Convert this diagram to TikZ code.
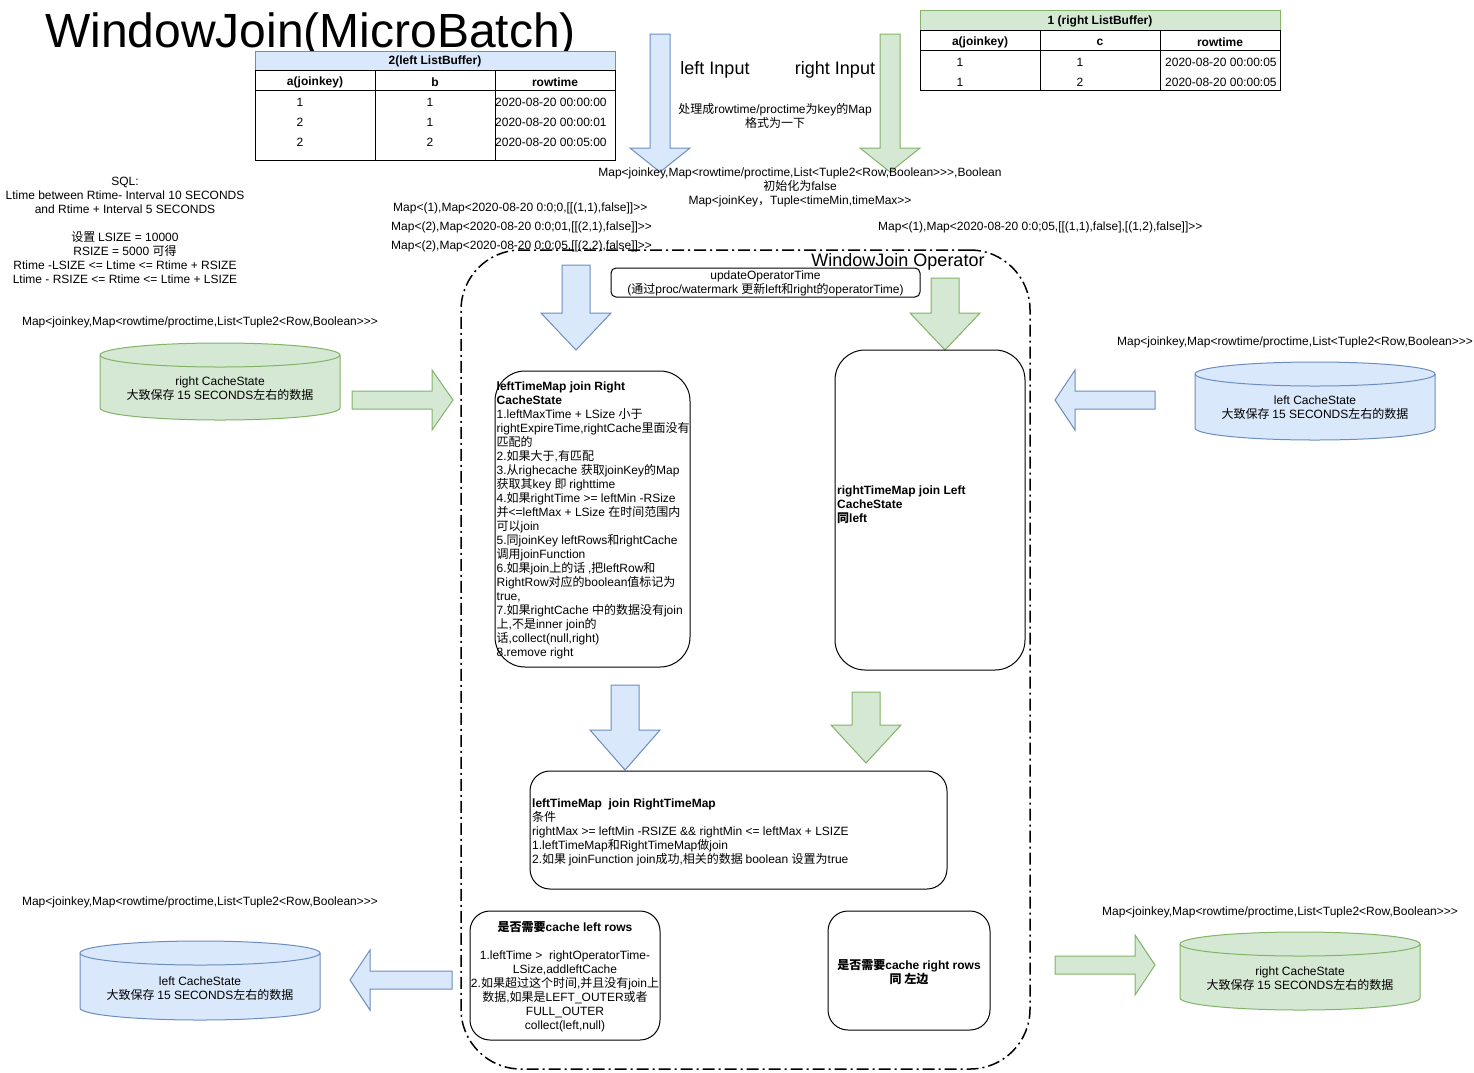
\documentclass[tikz,border=0pt]{standalone}
\usepackage{fontspec}
\setmainfont{Liberation Sans}[Ligatures=TeXOff]
\newfontfamily\cjkfont{Noto Sans CJK SC}[Ligatures=TeXOff]
\newXeTeXintercharclass\CJKcls
\newcount\cjkc
\cjkc="4E00
\loop \XeTeXcharclass\cjkc=\CJKcls \advance\cjkc by 1 \ifnum\cjkc<"A000 \repeat
\cjkc="3000
\loop \XeTeXcharclass\cjkc=\CJKcls \advance\cjkc by 1 \ifnum\cjkc<"3040 \repeat
\cjkc="FF00
\loop \XeTeXcharclass\cjkc=\CJKcls \advance\cjkc by 1 \ifnum\cjkc<"FFF0 \repeat
\XeTeXinterchartoks 0 \CJKcls = {\cjkfont}
\XeTeXinterchartoks 4095 \CJKcls = {\cjkfont}
\XeTeXinterchartoks \CJKcls 0 = {\rmfamily}
\XeTeXinterchartoks 4095 0 = {\rmfamily}
\XeTeXinterchartokenstate=1
\definecolor{bfill}{HTML}{DAE8FC}
\definecolor{bdraw}{HTML}{6C8EBF}
\definecolor{gfill}{HTML}{D5E8D4}
\definecolor{gdraw}{HTML}{82B366}
% block arrows: style, cx, ytop, yhead, ytip, shaft half, head half
\newcommand{\ArrV}[7]{\draw[#1] ({#2-#6},#3) -- ({#2+#6},#3) -- ({#2+#6},#4) -- ({#2+#7},#4) -- (#2,#5) -- ({#2-#7},#4) -- ({#2-#6},#4) -- cycle;}
% style, cy, xtail, xhead, xtip, shaft half, head half
\newcommand{\ArrH}[7]{\draw[#1] (#3,{#2-#6}) -- (#4,{#2-#6}) -- (#4,{#2-#7}) -- (#5,#2) -- (#4,{#2+#7}) -- (#4,{#2+#6}) -- (#3,{#2+#6}) -- cycle;}
% cylinder: style, x1, top, bottom, rx, ry
\newcommand{\Cyl}[6]{%
\draw[#1] (#2,{#3+#6}) -- (#2,{#4-#6}) arc[start angle=180,end angle=360,x radius=#5pt,y radius=#6pt] -- ({#2+2*#5},{#3+#6}) arc[start angle=0,end angle=180,x radius=#5pt,y radius=#6pt] -- cycle;
\draw[#1,fill=none] (#2,{#3+#6}) arc[start angle=180,end angle=360,x radius=#5pt,y radius=#6pt];}
\begin{document}
\begin{tikzpicture}[x=1pt,y=-1pt,
 txt/.style={inner sep=0pt, yshift=-1pt, font=\fontsize{12}{14}\selectfont},
 btxt/.style={inner sep=0pt, yshift=-1pt, font=\fontsize{12}{14}\selectfont\bfseries},
 rbox/.style={draw=black, line width=1pt, inner sep=0pt},
 opbox/.style={draw=black, line width=1.5pt, dash pattern=on 12pt off 4pt on 2pt off 4pt, rounded corners=60pt, inner sep=0pt},
 bluearr/.style={fill=bfill, draw=bdraw, line width=1pt},
 greenarr/.style={fill=gfill, draw=gdraw, line width=1pt},
 tline/.style={draw=black, line width=1pt}]
\useasboundingbox (0,0) rectangle (1474,1072);
\fill[white] (0,0) rectangle (1474,1072);

% title
\node[inner sep=0pt, anchor=base west, font=\fontsize{48}{56}\selectfont] (title) at (45,47) {WindowJoin(MicroBatch)};

% left table
\node[draw=bdraw, fill=bfill, line width=1pt, minimum width=360pt, minimum height=19pt] (lth) at (435,60.5) {};
\node[btxt] (lthtxt) at (lth.center) {2(left ListBuffer)};
\draw[tline] (255,70) rectangle (615,160);
\draw[tline] (255,90) -- (615,90);
\draw[tline] (375,70) -- (375,160);
\draw[tline] (495,70) -- (495,160);
\node[btxt] (lc1) at (315,81) {a(joinkey)};
\node[btxt] (lc2) at (435,81) {b};
\node[btxt] (lc3) at (555,81) {rowtime};
\node[txt] (l11) at (300,101) {1};
\node[txt] (l12) at (430,101) {1};
\node[txt, anchor=west] (l13) at (495,101) {2020-08-20 00:00:00};
\node[txt] (l21) at (300,121) {2};
\node[txt] (l22) at (430,121) {1};
\node[txt, anchor=west] (l23) at (495,121) {2020-08-20 00:00:01};
\node[txt] (l31) at (300,141) {2};
\node[txt] (l32) at (430,141) {2};
\node[txt, anchor=west] (l33) at (495,141) {2020-08-20 00:05:00};

% right table
\node[draw=gdraw, fill=gfill, line width=1pt, minimum width=360pt, minimum height=20pt] (rth) at (1100,20) {};
\node[btxt] (rthtxt) at (rth.center) {1 (right ListBuffer)};
\draw[tline] (920,30) rectangle (1280,90);
\draw[tline] (920,50) -- (1280,50);
\draw[tline] (1040,30) -- (1040,90);
\draw[tline] (1160,30) -- (1160,90);
\node[btxt] (rc1) at (980,41) {a(joinkey)};
\node[btxt] (rc2) at (1100,41) {c};
\node[btxt] (rc3) at (1220,41) {rowtime};
\node[txt] (r11) at (960,61) {1};
\node[txt] (r12) at (1080,61) {1};
\node[txt, anchor=west] (r13) at (1165,61) {2020-08-20 00:00:05};
\node[txt] (r21) at (960,81) {1};
\node[txt] (r22) at (1080,81) {2};
\node[txt, anchor=west] (r23) at (1165,81) {2020-08-20 00:00:05};

% input arrows
\ArrV{bluearr}{660}{34}{148}{172}{10}{30}
\ArrV{greenarr}{890}{34}{148}{172}{10}{30}
\node[inner sep=0pt, yshift=-1pt, font=\fontsize{18}{22}\selectfont] (linput) at (715,69) {left Input};
\node[inner sep=0pt, yshift=-1pt, font=\fontsize{18}{22}\selectfont] (rinput) at (835,69) {right Input};
\node[txt, align=center] (proc) at (775,115) {处理成rowtime/proctime为key的Map\\格式为一下};
\node[txt, align=center] (mapfmt) at (800,186) {Map<joinkey,Map<rowtime/proctime,List<Tuple2<Row,Boolean>>>,Boolean\\初始化为false\\Map<joinKey，Tuple<timeMin,timeMax>>};

% map examples
\node[txt, anchor=west] (lm1) at (393,207) {Map<(1),Map<2020-08-20 0:0;0,[[(1,1),false]]>>};
\node[txt, anchor=west] (lm2) at (391,226) {Map<(2),Map<2020-08-20 0:0;01,[[(2,1),false]]>>};
\node[txt, anchor=west] (lm3) at (391,245) {Map<(2),Map<2020-08-20 0:0;05,[[(2,2),false]]>>};
\node[txt, anchor=west] (rm1) at (878,226) {Map<(1),Map<2020-08-20 0:0;05,[[(1,1),false],[(1,2),false]]>>};

% SQL text
\node[txt, align=center] (sql) at (125,229) {SQL:\\Ltime between Rtime- Interval 10 SECONDS\\and Rtime + Interval 5 SECONDS\\[14pt]设置 LSIZE = 10000\\RSIZE = 5000 可得\\Rtime -LSIZE <= Ltime <= Rtime + RSIZE\\Ltime - RSIZE <= Rtime <= Ltime + LSIZE};

% operator container
\node[opbox, minimum width=569pt, minimum height=819pt] (op) at (745.5,659.5) {};
\node[inner sep=0pt, yshift=-1pt, font=\fontsize{18}{22}\selectfont] (optitle) at (898,261) {WindowJoin Operator};
\node[rbox, rounded corners=5pt, minimum width=309pt, minimum height=29pt] (upd) at (765.5,282.5) {};
\node[txt, align=center] (updtxt) at (upd.center) {updateOperatorTime\\(通过proc/watermark 更新left和right的operatorTime)};

% inner arrows
\ArrV{bluearr}{576}{265}{313}{350}{14}{35}
\ArrV{greenarr}{945}{278}{313}{350}{14}{35}

% left cache (green cylinder)
\node[txt] (lmapl) at (200,321) {Map<joinkey,Map<rowtime/proctime,List<Tuple2<Row,Boolean>>>};
\Cyl{greenarr}{100}{343}{420}{120}{12}
\node[txt, align=center] (rcache1) at (220,388) {right CacheState\\大致保存 15 SECONDS左右的数据};
\ArrH{greenarr}{400}{352}{432}{453}{9}{30}

% right cache (blue cylinder)
\node[txt] (lmapr) at (1295,341) {Map<joinkey,Map<rowtime/proctime,List<Tuple2<Row,Boolean>>>};
\Cyl{bluearr}{1195}{362}{440}{120}{12}
\node[txt, align=center] (lcache1) at (1315,407) {left CacheState\\大致保存 15 SECONDS左右的数据};
\ArrH{bluearr}{400}{1155}{1075}{1055}{9}{30}

% left join box
\node[rbox, rounded corners=30pt, minimum width=195pt, minimum height=296pt] (ljoin) at (592.5,519) {};
\node[txt, align=left, anchor=west] (ljointxt) at ([xshift=2pt]ljoin.west) {\textbf{leftTimeMap join Right}\\\textbf{CacheState}\\1.leftMaxTime + LSize 小于\\rightExpireTime,rightCache里面没有\\匹配的\\2.如果大于,有匹配\\3.从righecache 获取joinKey的Map\\获取其key 即 righttime\\4.如果rightTime >= leftMin -RSize\\并<=leftMax + LSize 在时间范围内\\可以join\\5.同joinKey leftRows和rightCache\\调用joinFunction\\6.如果join上的话 ,把leftRow和\\RightRow对应的boolean值标记为\\true,\\7.如果rightCache 中的数据没有join\\上,不是inner join的\\话,collect(null,right)\\8.remove right};

% right join box
\node[rbox, rounded corners=30pt, minimum width=190pt, minimum height=320pt] (rjoin) at (930,510) {};
\node[btxt, align=left, anchor=west] (rjointxt) at (837,504) {rightTimeMap join Left\\CacheState\\同left};

% lower arrows
\ArrV{bluearr}{625}{685}{730}{770}{14}{35}
\ArrV{greenarr}{866}{692}{725}{763}{14}{35}

% time map join box
\node[rbox, rounded corners=20pt, minimum width=417pt, minimum height=118pt] (tjoin) at (738.5,830) {};
\node[txt, align=left, anchor=west] (tjointxt) at (532,831) {\textbf{leftTimeMap\ \ join RightTimeMap}\\条件\\rightMax >= leftMin -RSIZE \&\& rightMin <= leftMax + LSIZE\\1.leftTimeMap和RightTimeMap做join\\2.如果 joinFunction join成功,相关的数据 boolean 设置为true};

% cache left rows box
\node[rbox, rounded corners=20pt, minimum width=190pt, minimum height=129pt] (cleft) at (565,975.5) {};
\node[txt, align=center] (clefttxt) at (565,976) {\textbf{是否需要cache left rows}\\[14pt]1.leftTime >\ \ rightOperatorTime-\\LSize,addleftCache\\2.如果超过这个时间,并且没有join上\\数据,如果是LEFT\_OUTER或者\\FULL\_OUTER\\collect(left,null)};

% cache right rows box
\node[rbox, rounded corners=20pt, minimum width=162pt, minimum height=119pt] (cright) at (909,970.5) {};
\node[btxt, align=center] (crighttxt) at (909,971) {是否需要cache right rows\\同 左边};

% bottom left cache
\node[txt] (lmapbl) at (200,901) {Map<joinkey,Map<rowtime/proctime,List<Tuple2<Row,Boolean>>>};
\Cyl{bluearr}{80}{941}{1020}{120}{12}
\node[txt, align=center] (lcache2) at (200,988) {left CacheState\\大致保存 15 SECONDS左右的数据};
\ArrH{bluearr}{980}{452}{370}{350}{9}{30}

% bottom right cache
\node[txt] (lmapbr) at (1280,911) {Map<joinkey,Map<rowtime/proctime,List<Tuple2<Row,Boolean>>>};
\Cyl{greenarr}{1180}{932}{1010}{120}{12}
\node[txt, align=center] (rcache2) at (1300,978) {right CacheState\\大致保存 15 SECONDS左右的数据};
\ArrH{greenarr}{965}{1055}{1135}{1155}{9}{30}
\end{tikzpicture}
\end{document}
